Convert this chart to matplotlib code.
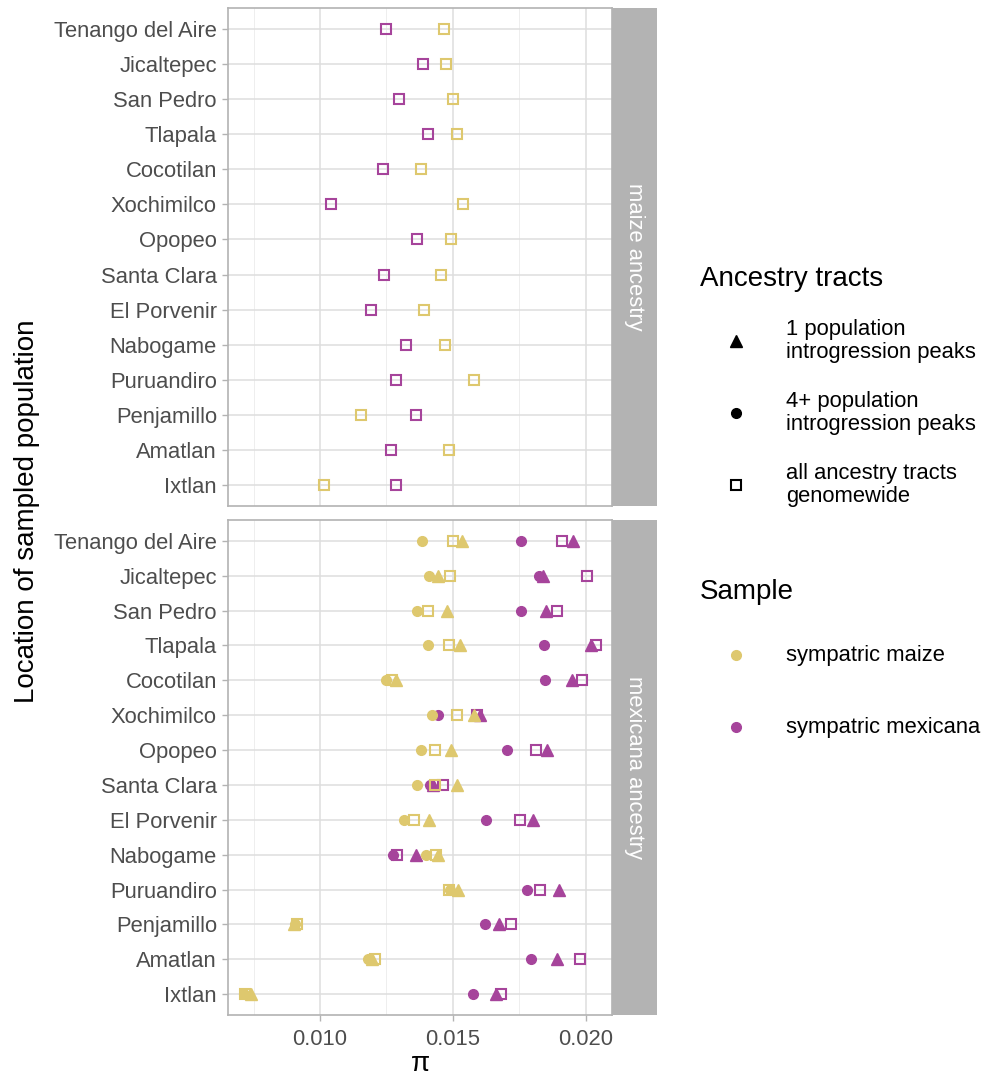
import matplotlib
matplotlib.use("Agg")
import matplotlib.pyplot as plt
import numpy as np

plt.rcParams['font.family'] = ['Liberation Sans', 'DejaVu Sans']

# populations, top to bottom
populations = ["Tenango del Aire", "Jicaltepec", "San Pedro", "Tlapala", "Cocotilan",
               "Xochimilco", "Opopeo", "Santa Clara", "El Porvenir", "Nabogame",
               "Puruandiro", "Penjamillo", "Amatlan", "Ixtlan"]

# maize ancestry: genomewide tracts only
maize_anc_maize_all = [0.01467, 0.01472, 0.01500, 0.01516, 0.01380, 0.01536, 0.01491,
                       0.01455, 0.01391, 0.01471, 0.01580, 0.01154, 0.01484, 0.01015]
maize_anc_mex_all = [0.01247, 0.01388, 0.01297, 0.01406, 0.01238, 0.01041, 0.01365,
                     0.01242, 0.01193, 0.01323, 0.01285, 0.01362, 0.01267, 0.01287]

# mexicana ancestry
mex_anc_maize_4 = [0.01385, 0.01410, 0.01366, 0.01407, 0.01249, 0.01421, 0.01381,
                   0.01366, 0.01317, 0.01397, 0.01490, 0.00906, 0.01182, 0.00713]
mex_anc_maize_1 = [0.01535, 0.01444, 0.01476, 0.01526, 0.01286, 0.01579, 0.01494,
                   0.01516, 0.01410, 0.01444, 0.01519, 0.00902, 0.01195, 0.00740]
mex_anc_maize_all = [0.01501, 0.01490, 0.01405, 0.01484, 0.01272, 0.01515, 0.01431,
                     0.01432, 0.01355, 0.01436, 0.01486, 0.00915, 0.01207, 0.00718]
mex_anc_mex_4 = [0.01757, 0.01825, 0.01756, 0.01841, 0.01847, 0.01445, 0.01703,
                 0.01414, 0.01623, 0.01276, 0.01778, 0.01622, 0.01793, 0.01575]
mex_anc_mex_1 = [0.01950, 0.01840, 0.01851, 0.02019, 0.01947, 0.01603, 0.01852,
                 0.01426, 0.01802, 0.01360, 0.01900, 0.01674, 0.01891, 0.01662]
mex_anc_mex_all = [0.01911, 0.02004, 0.01891, 0.02036, 0.01984, 0.01589, 0.01812,
                   0.01461, 0.01753, 0.01291, 0.01826, 0.01719, 0.01977, 0.01680]

x_ticks = [0.010, 0.015, 0.020]
x_minor = [0.0075, 0.0125, 0.0175]

MAIZE = '#DEC86E'
MEX = '#A6449B'
GRID = '#DEDEDE'
BORDER = '#B3B3B3'

W, H = 995, 1078
fig = plt.figure(figsize=(W / 100, H / 100), dpi=100)


def frac(x0, y0, x1, y1):
    return [x0 / W, 1 - y1 / H, (x1 - x0) / W, (y1 - y0) / H]


def style_panel(ax, show_x):
    ypos = np.arange(len(populations))
    ax.set_xlim(0.00654, 0.02098)
    ax.set_ylim(len(populations) - 0.4, -0.6)
    ax.set_yticks(ypos)
    ax.set_yticklabels(populations, fontsize=15.8, color='#4D4D4D')
    ax.set_xticks(x_ticks)
    ax.set_xticks(x_minor, minor=True)
    ax.grid(True, which='major', color=GRID, lw=1.1, zorder=0)
    ax.grid(True, which='minor', axis='x', color='#EBEBEB', lw=0.6, zorder=0)
    ax.set_axisbelow(True)
    for s in ax.spines.values():
        s.set_color(BORDER)
        s.set_linewidth(1.2)
    ax.tick_params(axis='y', length=4, width=1, color=BORDER, pad=4)
    ax.tick_params(axis='x', which='minor', length=0)
    if show_x:
        ax.set_xticklabels(['0.010', '0.015', '0.020'])
        ax.tick_params(axis='x', which='major', length=4, width=1, color=BORDER,
                       labelsize=15.8, labelcolor='#4D4D4D', pad=6)
    else:
        ax.tick_params(axis='x', which='major', length=0, labelbottom=False)


def strip(x0, y0, x1, y1, label):
    sax = fig.add_axes(frac(x0, y0, x1, y1))
    sax.set_facecolor(BORDER)
    sax.set_xticks([])
    sax.set_yticks([])
    for s in sax.spines.values():
        s.set_visible(False)
    sax.text(0.5, 0.5, label, rotation=-90, ha='center', va='center',
             color='white', fontsize=15.8, transform=sax.transAxes)


ypos = np.arange(len(populations))
sq = dict(marker='s', ms=7.2, mfc='none', mew=1.5, ls='none', zorder=3)
tri = dict(marker='^', ms=8, ls='none', zorder=3)
dot = dict(marker='o', ms=7, ls='none', zorder=3)

# top facet
ax1 = fig.add_axes(frac(228, 8, 612, 506))
ax1.plot(maize_anc_maize_all, ypos, mec=MAIZE, **sq)
ax1.plot(maize_anc_mex_all, ypos, mec=MEX, **sq)
style_panel(ax1, False)
strip(612, 8, 657, 506, 'maize ancestry')

# bottom facet
ax2 = fig.add_axes(frac(228, 520, 612, 1015))
ax2.plot(mex_anc_mex_4, ypos, color=MEX, **dot)
ax2.plot(mex_anc_mex_1, ypos, color=MEX, **tri)
ax2.plot(mex_anc_mex_all, ypos, mec=MEX, **sq)
ax2.plot(mex_anc_maize_4, ypos, color=MAIZE, **dot)
ax2.plot(mex_anc_maize_1, ypos, color=MAIZE, **tri)
ax2.plot(mex_anc_maize_all, ypos, mec=MAIZE, **sq)
style_panel(ax2, True)
ax2.set_xlabel('π', fontsize=20, labelpad=1)
strip(612, 520, 657, 1015, 'mexicana ancestry')

fig.text(27 / W, 1 - 511 / H, 'Location of sampled population', rotation=90,
         ha='center', va='center', fontsize=20)

# legends drawn on an overlay in pixel coordinates
lax = fig.add_axes([0, 0, 1, 1])
lax.set_xlim(0, W)
lax.set_ylim(H, 0)
lax.axis('off')

lax.text(700, 279, 'Ancestry tracts', fontsize=20, va='center', ha='left')
shape_items = [('^', '1 population\nintrogression peaks', 341, 'full'),
               ('o', '4+ population\nintrogression peaks', 413, 'full'),
               ('s', 'all ancestry tracts\ngenomewide', 485, 'open')]
for m, lab, y, fill in shape_items:
    if fill == 'open':
        lax.plot([736], [y], marker=m, ms=7.2, mfc='none', mec='black', mew=1.5)
    else:
        lax.plot([736], [y], marker=m, ms=7 if m == 'o' else 8, color='black')
    lax.text(786, y, lab, fontsize=15.8, va='center', ha='left', linespacing=1.15)

lax.text(700, 592, 'Sample', fontsize=20, va='center', ha='left')
for col, lab, y in [(MAIZE, 'sympatric maize', 655), (MEX, 'sympatric mexicana', 727)]:
    lax.plot([736], [y], marker='o', ms=7, color=col)
    lax.text(786, y, lab, fontsize=15.8, va='center', ha='left')

fig.savefig('out.png', dpi=100)
